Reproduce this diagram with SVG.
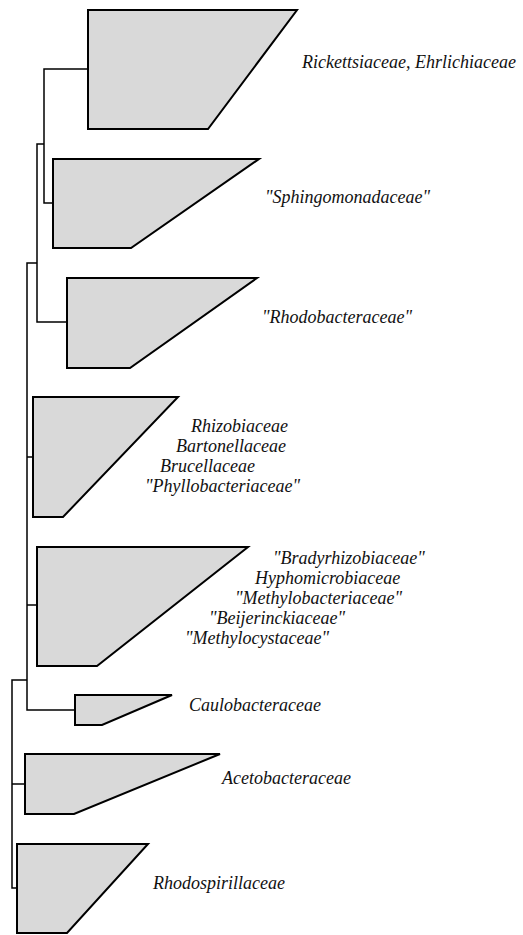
<svg xmlns="http://www.w3.org/2000/svg" width="523" height="935" viewBox="0 0 523 935">
<style>
.clade{fill:#d9d9d9;stroke:#000;stroke-width:2;stroke-linejoin:miter}
.br{fill:none;stroke:#000;stroke-width:1.5}
text{font-family:"Liberation Serif","Times New Roman",serif;font-style:italic;font-size:18px;fill:#111}
</style>
<rect width="523" height="935" fill="#fff"/>
<g id="connectors">
<path class="br" d="M88,69H44V203H53"/>
<path class="br" d="M44,144H37V322H67"/>
<path class="br" d="M37,263H27V710H75"/>
<path class="br" d="M27,457H33"/>
<path class="br" d="M27,605H37"/>
<path class="br" d="M27,680H12V888H17"/>
<path class="br" d="M12,784H25"/>
</g>
<g id="rickettsiaceae">
<polygon class="clade" points="88,10 297,10 208,129 88,129"/>
<text x="302" y="68">Rickettsiaceae, Ehrlichiaceae</text>
</g>
<g id="sphingomonadaceae">
<polygon class="clade" points="53,159 259,159 131,248 53,248"/>
<text x="265" y="203">"Sphingomonadaceae"</text>
</g>
<g id="rhodobacteraceae">
<polygon class="clade" points="67,278 257,278 130,368 67,368"/>
<text x="262" y="323">"Rhodobacteraceae"</text>
</g>
<g id="rhizobiaceae">
<polygon class="clade" points="33,397 178,397 63,517 33,517"/>
<text x="191" y="432">Rhizobiaceae</text>
<text x="176" y="452">Bartonellaceae</text>
<text x="160" y="472">Brucellaceae</text>
<text x="145" y="492">"Phyllobacteriaceae"</text>
</g>
<g id="bradyrhizobiaceae">
<polygon class="clade" points="37,547 248,547 97,666 37,666"/>
<text x="273" y="564">"Bradyrhizobiaceae"</text>
<text x="255" y="584">Hyphomicrobiaceae</text>
<text x="235" y="604">"Methylobacteriaceae"</text>
<text x="209" y="624">"Beijerinckiaceae"</text>
<text x="185" y="644">"Methylocystaceae"</text>
</g>
<g id="caulobacteraceae">
<polygon class="clade" points="75,695 172,695 102,725 75,725"/>
<text x="189" y="711">Caulobacteraceae</text>
</g>
<g id="acetobacteraceae">
<polygon class="clade" points="25,754 220,754 74,814 25,814"/>
<text x="222" y="784">Acetobacteraceae</text>
</g>
<g id="rhodospirillaceae">
<polygon class="clade" points="17,844 148,844 67,933 17,933"/>
<text x="153" y="889">Rhodospirillaceae</text>
</g>
</svg>
